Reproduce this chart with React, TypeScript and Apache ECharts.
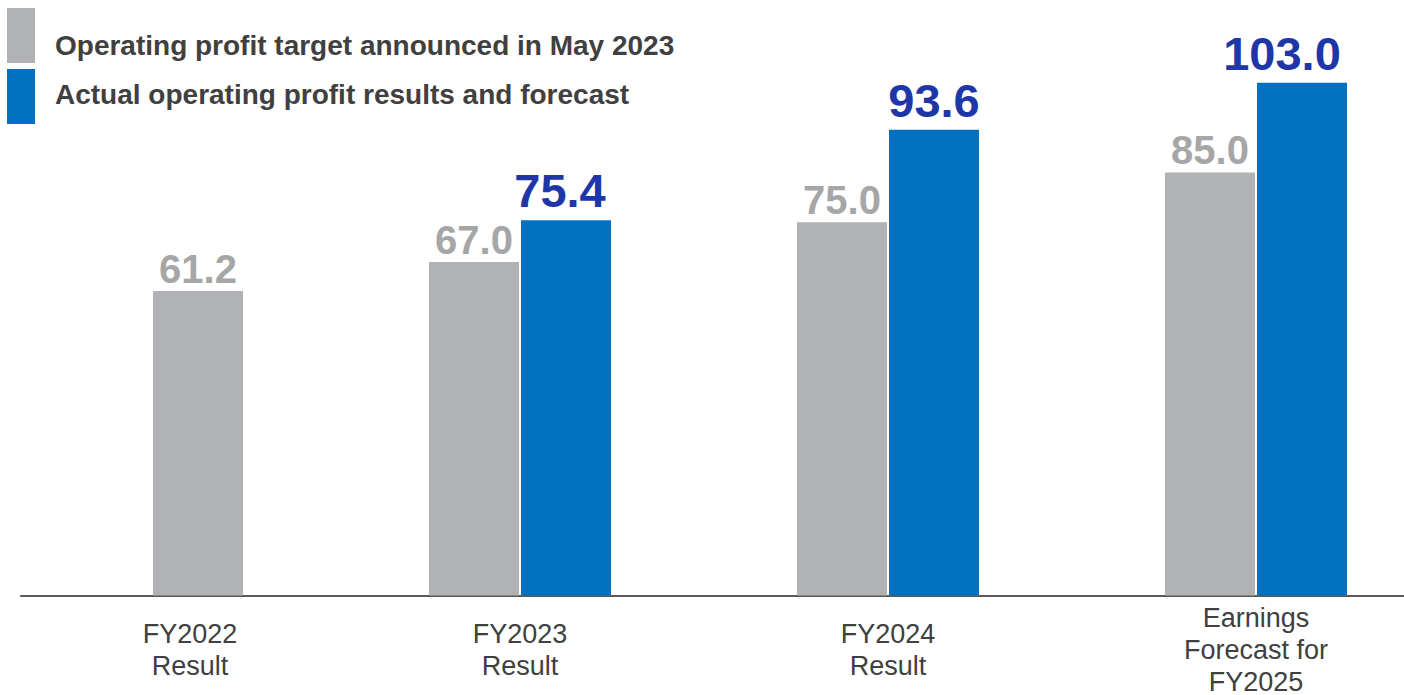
import React, { useEffect, useRef } from "react";
import * as echarts from "echarts";

const categories = ["FY2022\nResult", "FY2023\nResult", "FY2024\nResult", "Earnings\nForecast for\nFY2025"];
const targetValues: (number | null)[] = [null, 67.0, 75.0, 85.0];
const actualValues: number[] = [61.2, 75.4, 93.6, 103.0];
const seriesNames = [
  "Operating profit target announced in May 2023",
  "Actual operating profit results and forecast",
];

const FONT = "'Liberation Sans', Arial, sans-serif";
const GREY = "#b1b2b6";
const GREY_TEXT = "#a6a6a6";
const BLUE = "#0070c0";
const BLUE_TEXT = "#1f36a8";
const DARK = "#404040";
const SHIFT = 32; // chart canvas starts 32px left of the page
// horizontal nudges of the blue value labels (styling only)
const actualLabelShift = [0, -6, 0, -20];

export default function App() {
  const ref = useRef<HTMLDivElement>(null);
  useEffect(() => {
    if (!ref.current) return;
    const chart = echarts.init(ref.current, undefined, { renderer: "svg" });
    const fmt = (p: any) => Number(p.value).toFixed(1);
    const axisRich = {
      fontSize: 27,
      lineHeight: 32,
      color: DARK,
      fontFamily: FONT,
    };
    chart.setOption({
      animation: false,
      backgroundColor: "#ffffff",
      legend: {
        left: 7 + SHIFT,
        top: 8,
        padding: 0,
        orient: "vertical",
        itemWidth: 28,
        itemHeight: 55,
        itemGap: 6,
        icon: "rect",
        selectedMode: false,
        data: seriesNames,
        formatter: (name: string) => (name === seriesNames[0] ? `{a|${name}}` : `{b|${name}}`),
        textStyle: {
          rich: {
            a: { fontSize: 28, fontWeight: "bold", color: DARK, fontFamily: FONT, padding: [20, 0, 0, 15] },
            b: { fontSize: 28, fontWeight: "bold", color: DARK, fontFamily: FONT, padding: [0, 0, 4, 15] },
          },
        },
      },
      grid: [
        { left: 0, width: 1472, top: 48, height: 548 },
        { left: 21 + SHIFT, right: 36, top: 48, height: 548 },
      ],
      xAxis: [
        {
          type: "category",
          gridIndex: 0,
          data: categories,
          axisLine: { show: false },
          axisTick: { show: false },
          axisLabel: {
            interval: 0,
            margin: 54,
            verticalAlign: "middle",
            formatter: (value: string, index: number) =>
              value
                .split("\n")
                .map((l) => `{${index === 0 ? "f" : "n"}|${l}}`)
                .join("\n"),
            rich: {
              n: { ...axisRich },
              f: { ...axisRich, padding: [0, 0, 0, 76] },
            },
          },
        },
        {
          type: "value",
          gridIndex: 1,
          min: 0,
          max: 1,
          axisLine: {
            show: true,
            onZero: false,
            lineStyle: { color: "#5a5a5a", width: 2 },
          },
          axisTick: { show: false },
          axisLabel: { show: false },
          splitLine: { show: false },
        },
      ],
      yAxis: [
        { type: "value", gridIndex: 0, min: 0, max: 110, show: false },
        { type: "value", gridIndex: 1, min: 0, max: 1, show: false },
      ],
      series: [
        {
          name: seriesNames[0],
          type: "bar",
          xAxisIndex: 0,
          yAxisIndex: 0,
          data: targetValues,
          barWidth: 90,
          barGap: "2.2%",
          itemStyle: { color: GREY },
          label: {
            show: true,
            position: "top",
            distance: 2,
            color: GREY_TEXT,
            fontSize: 40,
            fontWeight: "bold",
            fontFamily: FONT,
            formatter: fmt,
          },
        },
        {
          name: seriesNames[1],
          type: "bar",
          xAxisIndex: 0,
          yAxisIndex: 0,
          data: actualValues.map((v, i) =>
            i === 0
              ? { value: v, itemStyle: { color: GREY }, label: { color: GREY_TEXT, fontSize: 40, distance: 2 } }
              : { value: v, label: { offset: [actualLabelShift[i], 0] } }
          ),
          barWidth: 90,
          barGap: "2.2%",
          itemStyle: { color: BLUE },
          label: {
            show: true,
            position: "top",
            distance: 6,
            color: BLUE_TEXT,
            fontSize: 47,
            fontWeight: "bold",
            fontFamily: FONT,
            formatter: fmt,
          },
        },
      ],
    });
    return () => chart.dispose();
  }, []);
  return (
    <div
      style={{
        position: "absolute",
        left: 0,
        top: 0,
        width: 1404,
        height: 695,
        overflow: "hidden",
        background: "#ffffff",
      }}
    >
      <div
        ref={ref}
        style={{ position: "absolute", left: -SHIFT, top: 0, width: 1472, height: 695 }}
      />
    </div>
  );
}
